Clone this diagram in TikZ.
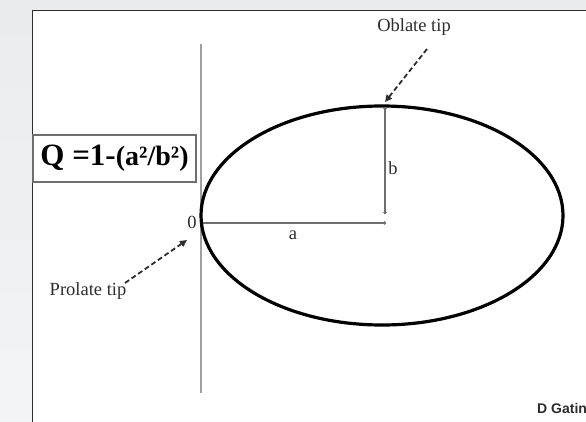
\documentclass[tikz,border=0pt]{standalone}
\usepackage{fontspec}
\setmainfont{Liberation Serif}
\newfontfamily\gatfont{Liberation Sans}
\usetikzlibrary{shapes.geometric,arrows.meta}
\definecolor{bgray}{RGB}{234,236,240}
\definecolor{lgray}{RGB}{243,244,247}
\definecolor{axisgray}{RGB}{160,160,160}
\definecolor{dimgray}{RGB}{110,110,110}
\definecolor{txtgray}{RGB}{45,45,45}
\tikzset{
  lbl/.style={font=\fontsize{18.5}{20}\selectfont, text=txtgray, inner sep=0pt},
  tiparrow/.style={draw=txtgray, line width=1.8pt, dash pattern=on 5pt off 3pt, -{Triangle[length=7pt,width=6.5pt]}},
  dimline/.style={draw=dimgray, line width=1.3pt},
}
\begin{document}
\begin{tikzpicture}[x=1pt,y=-1pt]
\useasboundingbox (0,0) rectangle (586,422);
% background
\fill[bgray] (0,0) rectangle (586,422);
\shade[top color=bgray, bottom color=lgray] (0,11) rectangle (32,422);
\fill[white] (32,11) rectangle (586,422);
\draw[line width=1pt, txtgray] (32,422) -- (32,11) -- (586,11);
% vertical axis
\coordinate (vtop) at (201,44);
\coordinate (vbot) at (201,393);
\draw[axisgray, line width=1.3pt] (vtop) -- (vbot);
% ellipse
\node[draw, line width=3.2pt, ellipse, minimum width=362pt, minimum height=219pt, inner sep=0pt] (ell) at (382,215.5) {};
% a and b lines
\coordinate (aL) at (203,223);
\coordinate (aR) at (386,223);
\coordinate (bT) at (385,107);
\coordinate (bB) at (385,214);
\draw[dimline, -{Circle[length=3pt]}] (aL) -- (aR);
\draw[dimline, {Circle[length=3pt]}-{Circle[length=3pt]}] (bT) -- (bB);
% labels
\node[lbl] (zero) at (192,222) {0};
\node[lbl] (alab) at (293,235) {a};
\node[lbl] (blab) at (393,168) {b};
\node[lbl] (oblate) at (414,27) {Oblate tip};
\node[lbl] (prolate) at (88,291) {Prolate tip};
\coordinate (obEnd) at (385,102);
\coordinate (prEnd) at (187,240);
\draw[tiparrow] (427,49) -- (obEnd);
\draw[tiparrow] (125,283) -- (prEnd);
% Q box
\node[draw=dimgray, line width=1.4pt, minimum width=163pt, minimum height=47pt, inner sep=0pt, text=black] (qbox) at (114.5,158.5)
  {\bfseries\fontsize{31}{32}\selectfont Q =1-\fontsize{28}{30}\selectfont(a²/b²)};
% credit
\begin{scope}
\clip (0,0) rectangle (586,422);
\node[anchor=west, inner sep=0pt, font=\gatfont\bfseries\fontsize{14}{16}\selectfont, text=txtgray] (credit) at (537,408) {D Gatin};
\end{scope}
\end{tikzpicture}
\end{document}
